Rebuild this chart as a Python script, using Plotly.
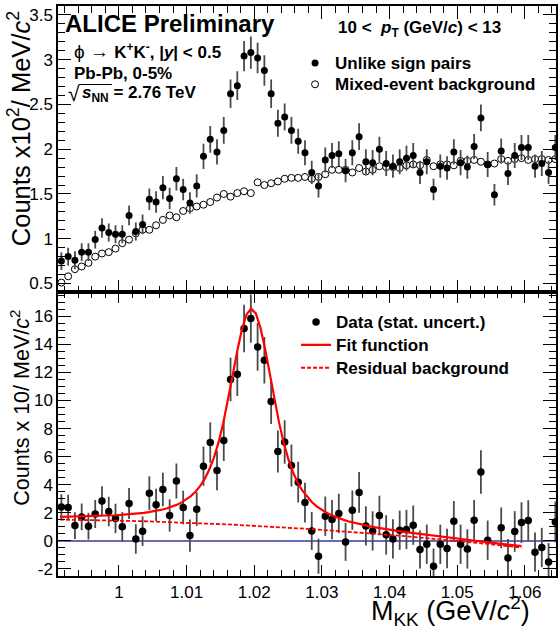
import numpy as np
import plotly.graph_objects as go

# ---------------------------------------------------------------- data
# K+K- invariant-mass bin centres (GeV/c^2), 1 MeV bins
MASS = [0.9915, 0.9925, 0.9935, 0.9945, 0.9955, 0.9965, 0.9975, 0.9985, 0.9995, 1.0005,
        1.0015, 1.0025, 1.0035, 1.0045, 1.0055, 1.0065, 1.0075, 1.0085, 1.0095, 1.0105,
        1.0115, 1.0125, 1.0135, 1.0145, 1.0155, 1.0165, 1.0175, 1.0185, 1.0195, 1.0205,
        1.0215, 1.0225, 1.0235, 1.0245, 1.0255, 1.0265, 1.0275, 1.0285, 1.0295, 1.0305,
        1.0315, 1.0325, 1.0335, 1.0345, 1.0355, 1.0365, 1.0375, 1.0385, 1.0395, 1.0405,
        1.0415, 1.0425, 1.0435, 1.0445, 1.0455, 1.0465, 1.0475, 1.0485, 1.0495, 1.0505,
        1.0515, 1.0525, 1.0535, 1.0545, 1.0555, 1.0565, 1.0575, 1.0585, 1.0595, 1.0605,
        1.0615, 1.0625, 1.0635, 1.0645]

# upper panel: counts x10^2 per MeV/c^2
UNLIKE = [0.75, 0.80, 0.76, 0.85, 0.85, 0.99, 1.12, 1.07, 1.05, 1.05,
          1.26, 1.08, 1.16, 1.44, 1.41, 1.57, 1.45, 1.67, 1.55, 1.40,
          1.59, 1.92, 2.11, 1.97, 2.21, 2.62, 2.71, 3.04, 3.08, 3.02,
          2.88, 2.62, 2.29, 2.36, 2.21, 2.09, 1.96, 1.74, 1.59, 1.88,
          1.93, 1.95, 1.76, 1.96, 2.14, 1.86, 1.85, 2.00, 1.84, 1.81,
          1.86, 1.90, 1.93, 1.74, 1.86, 1.55, 1.81, 1.79, 1.97, 1.85,
          1.80, 2.03, 2.35, 1.83, 1.49, 1.98, 1.73, 1.93, 2.02, 2.02,
          1.81, 1.84, 1.74, 2.02]
UNLIKE_ERR = [0.10, 0.10, 0.10, 0.10, 0.10, 0.10, 0.11, 0.10, 0.10, 0.10,
              0.11, 0.10, 0.11, 0.12, 0.12, 0.13, 0.12, 0.13, 0.12, 0.12,
              0.13, 0.14, 0.15, 0.14, 0.15, 0.16, 0.16, 0.17, 0.18, 0.17,
              0.17, 0.16, 0.15, 0.15, 0.15, 0.14, 0.14, 0.13, 0.13, 0.14,
              0.14, 0.14, 0.13, 0.14, 0.15, 0.14, 0.14, 0.14, 0.14, 0.13,
              0.14, 0.14, 0.14, 0.13, 0.14, 0.12, 0.13, 0.13, 0.14, 0.14,
              0.13, 0.14, 0.15, 0.14, 0.12, 0.14, 0.13, 0.14, 0.14, 0.14,
              0.13, 0.14, 0.13, 0.14]
MIXED = [0.51, 0.58, 0.66, 0.69, 0.73, 0.80, 0.835, 0.85, 0.89, 0.95,
         0.99, 1.06, 1.10, 1.10, 1.15, 1.21, 1.26, 1.24, 1.31, 1.34,
         1.36, 1.38, 1.41, 1.46, 1.50, 1.47, 1.51, 1.53, 1.51, 1.63,
         1.60, 1.62, 1.64, 1.67, 1.68, 1.68, 1.69, 1.67, 1.69, 1.72,
         1.77, 1.77, 1.77, 1.74, 1.79, 1.75, 1.77, 1.81, 1.80, 1.80,
         1.79, 1.82, 1.83, 1.82, 1.88, 1.81, 1.83, 1.83, 1.82, 1.87,
         1.87, 1.88, 1.86, 1.83, 1.84, 1.89, 1.87, 1.89, 1.90, 1.88,
         1.89, 1.89, 1.88, 1.89]

# lower panel: background-subtracted counts x10 per MeV/c^2
SIGNAL = [2.42, 2.38, 1.09, 1.71, 1.05, 1.92, 2.85, 2.09, 1.60, 1.00,
          2.66, 0.14, 0.69, 3.40, 2.57, 3.66, 1.81, 4.27, 2.38, 0.38,
          2.26, 5.32, 7.01, 5.01, 7.15, 11.50, 11.87, 15.13, 15.84, 13.82,
          12.87, 9.93, 6.37, 7.05, 5.37, 4.18, 2.73, 0.71, -1.09, 1.76,
          1.52, 1.95, -0.07, 2.19, 3.45, 1.07, 0.71, 1.81, 0.43, 0.14,
          0.76, 0.81, 1.12, -0.61, -0.24, -1.80, -0.24, -0.54, 1.40, -0.24,
          -0.57, 1.47, 4.91, 0.05, -4.00, 0.93, -1.21, 0.67, 1.31, 1.45,
          -0.80, -0.47, -1.50, 1.35]
SIGNAL_ERR = [0.90, 0.90, 0.95, 0.95, 0.95, 1.00, 1.05, 1.05, 1.05, 1.05,
              1.10, 1.05, 1.05, 1.20, 1.15, 1.20, 1.15, 1.25, 1.20, 1.15,
              1.20, 1.40, 1.45, 1.40, 1.45, 1.55, 1.55, 1.70, 1.72, 1.70,
              1.65, 1.60, 1.50, 1.55, 1.50, 1.45, 1.42, 1.35, 1.25, 1.40,
              1.40, 1.40, 1.35, 1.40, 1.45, 1.40, 1.40, 1.40, 1.40, 1.40,
              1.40, 1.40, 1.40, 1.35, 1.40, 1.25, 1.40, 1.40, 1.45, 1.40,
              1.40, 1.45, 1.55, 1.40, 1.40, 1.45, 1.35, 1.45, 1.45, 1.45,
              1.40, 1.40, 1.35, 1.45]

# fit: Voigtian peak on a 2nd-order polynomial residual background
FIT_LO, FIT_HI = 0.9913, 1.0595
FIT_MASS = 1.0196      # GeV/c^2
FIT_GAMMA = 0.0055     # Lorentz width, GeV/c^2
FIT_SIGMA = 0.0018     # mass resolution, GeV/c^2
FIT_PEAK = 15.45       # peak height above background
BG_X0 = 0.9915
BG_P0, BG_P1, BG_P2 = 1.52, -5.5, -350.0
ZERO_LEVEL = 0.0

# axis ticks
X_RANGE = [0.991, 1.0646]
TOP_RANGE = [0.4, 3.6]
BOT_RANGE = [-2.5, 17.7]
BOT_TICKS = [-2, 0, 2, 4, 6, 8, 10, 12, 14, 16]
BOT_TICKTEXT = ["-2", "0", "2", "4", "6", "8", "10", "12", "14", "16"]


def voigt_shape(x, m, gamma, sigma):
    x = np.atleast_1d(np.asarray(x, dtype=float))
    u = np.linspace(-6 * sigma, 6 * sigma, 241)
    w = np.exp(-0.5 * (u / sigma) ** 2)
    hw2 = (gamma / 2.0) ** 2
    lor = hw2 / ((x[:, None] - m - u[None, :]) ** 2 + hw2)
    return (lor * w).sum(axis=1) / w.sum()


def residual_bg(x):
    t = np.asarray(x) - BG_X0
    return BG_P0 + BG_P1 * t + BG_P2 * t ** 2


fit_x = np.linspace(FIT_LO, FIT_HI, 100)
peak = voigt_shape(fit_x, FIT_MASS, FIT_GAMMA, FIT_SIGMA) / \
    voigt_shape([FIT_MASS], FIT_MASS, FIT_GAMMA, FIT_SIGMA)[0]
bg_y = residual_bg(fit_x)
fit_y = FIT_PEAK * peak + bg_y

# ---------------------------------------------------------------- geometry
W, H = 559, 629
ML, MR, MT, MB = 58, 1, 6, 53
SPLIT = 0.4975
FONT = "Liberation Sans, Arial, Helvetica, sans-serif"


def px(x):
    return (x - ML) / (W - ML - MR)


def py(y):
    return (H - MB - y) / (H - MT - MB)


fig = go.Figure()

# upper panel
fig.add_trace(go.Scatter(
    x=MASS, y=MIXED, mode="markers", xaxis="x2", yaxis="y2",
    name="<span style='font-size:17px'><b>Mixed-event background</b></span>",
    legend="legend", legendrank=2,
    marker=dict(symbol="circle", size=7, color="white",
                line=dict(color="black", width=1)),
))
fig.add_trace(go.Scatter(
    x=MASS, y=UNLIKE, mode="markers", xaxis="x2", yaxis="y2",
    name="<span style='font-size:17px'><b>Unlike sign pairs</b></span>",
    legend="legend", legendrank=1,
    marker=dict(symbol="circle", size=7, color="black", line=dict(width=0)),
    error_y=dict(type="data", array=UNLIKE_ERR, color="#4a4a4a",
                 thickness=1.8, width=0),
))

# lower panel
fig.add_trace(go.Scatter(
    x=MASS, y=SIGNAL, mode="markers",
    name="<span style='font-size:17px'><b>Data (stat. uncert.)</b></span>",
    legend="legend2",
    marker=dict(symbol="circle", size=7.5, color="black", line=dict(width=0)),
    error_y=dict(type="data", array=SIGNAL_ERR, color="#4a4a4a",
                 thickness=1.8, width=0),
))
fig.add_trace(go.Scatter(
    x=fit_x, y=fit_y, mode="lines",
    name="<span style='font-size:17px'><b>Fit function</b></span>",
    legend="legend2",
    line=dict(color="#ff0000", width=2.2),
))
fig.add_trace(go.Scatter(
    x=fit_x, y=bg_y, mode="lines",
    name="<span style='font-size:17px'><b>Residual background</b></span>",
    legend="legend2",
    line=dict(color="#ff0000", width=1.8, dash="4px,2px"),
))

# zero reference line in the lower panel
fig.add_shape(type="line", xref="x domain", yref="y", x0=0, x1=1,
              y0=ZERO_LEVEL, y1=ZERO_LEVEL, layer="below",
              line=dict(color="#6a6ab4", width=2))

axis_common = dict(showline=True, linecolor="black", linewidth=1.5,
                   mirror="allticks", ticks="inside", tickcolor="black",
                   tickwidth=1, showgrid=False, zeroline=False,
                   tickfont=dict(family=FONT, size=17, color="black"))

fig.update_layout(
    width=W, height=H,
    margin=dict(l=ML, r=MR, t=MT, b=MB, pad=0),
    paper_bgcolor="white", plot_bgcolor="white",
    font=dict(family=FONT, color="black"),
    xaxis=dict(domain=[0, 1], anchor="y", range=X_RANGE,
               tickmode="linear", tick0=1.0, dtick=0.01, ticklen=11,
               minor=dict(tickmode="linear", tick0=1.0, dtick=0.002,
                          ticklen=6, ticks="inside", tickcolor="black"),
               **axis_common),
    xaxis2=dict(domain=[0, 1], anchor="y2", matches="x", range=X_RANGE,
                showticklabels=False,
                tickmode="linear", tick0=1.0, dtick=0.01, ticklen=13,
                minor=dict(tickmode="linear", tick0=1.0, dtick=0.002,
                           ticklen=7, ticks="inside", tickcolor="black"),
                **axis_common),
    yaxis=dict(domain=[0, SPLIT], anchor="x", range=BOT_RANGE,
               tickmode="array", tickvals=BOT_TICKS, ticktext=BOT_TICKTEXT,
               ticklen=13,
               minor=dict(tickmode="linear", tick0=0, dtick=0.5,
                          ticklen=7, ticks="inside", tickcolor="black"),
               **axis_common),
    yaxis2=dict(domain=[SPLIT, 1], anchor="x2", range=TOP_RANGE,
                tickmode="linear", tick0=0.5, dtick=0.5, ticklen=13,
                minor=dict(tickmode="linear", tick0=0.5, dtick=0.1,
                           ticklen=7, ticks="inside", tickcolor="black"),
                **axis_common),
    legend=dict(x=px(296), y=py(47.5), xanchor="left", yanchor="top",
                bgcolor="rgba(0,0,0,0)", borderwidth=0,
                font=dict(family=FONT, size=14, color="black"),
                traceorder="normal"),
    legend2=dict(x=px(297), y=py(305.5), xanchor="left", yanchor="top",
                 bgcolor="rgba(0,0,0,0)", borderwidth=0,
                 font=dict(family=FONT, size=15.3, color="black"),
                 traceorder="normal"),
    showlegend=True,
)

ann = []


def note(text, x, y, size, xanchor="left", yanchor="middle", angle=0):
    ann.append(dict(text=text, x=x, y=y, xref="paper", yref="paper",
                    xanchor=xanchor, yanchor=yanchor, showarrow=False,
                    textangle=angle,
                    font=dict(family=FONT, size=size, color="black")))


note("<b>ALICE Preliminary</b>", px(63), py(23.5), 24)
note("<span style='font-size:19px'>ϕ → </span>"
     "<b>K<sup>+</sup>K<sup>-</sup>, |<i>y</i>| &lt; 0.5</b>", px(72), py(51), 17)
note("<b>Pb-Pb, 0-5%</b>", px(72), py(73), 17)
note("√", px(66), py(93), 21)
note("<b><i>s</i><sub>NN</sub> = 2.76 TeV</b>", px(80), py(94), 17)
note("<b>10 &lt;  <i>p</i><sub>T</sub> (GeV/<i>c</i>) &lt; 13</b>", px(337), py(29), 17)
note("Counts x10<sup>2</sup>/ MeV/<i>c</i><sup>2</sup>", px(19), py(129), 25.5,
     xanchor="center", angle=-90)
note("Counts x 10/ MeV/<i>c</i><sup>2</sup>", px(19), py(407.5), 21.5,
     xanchor="center", angle=-90)
note("M<sub>KK</sub> (GeV/<i>c</i><sup>2</sup>)", px(534), py(611), 27,
     xanchor="right")
fig.update_layout(annotations=ann)

# overline of the square-root sign
fig.add_shape(type="line", xref="paper", yref="paper",
              x0=px(79), x1=px(112), y0=py(84.5), y1=py(84.5),
              line=dict(color="black", width=1.2))

fig.write_html("out.html")
